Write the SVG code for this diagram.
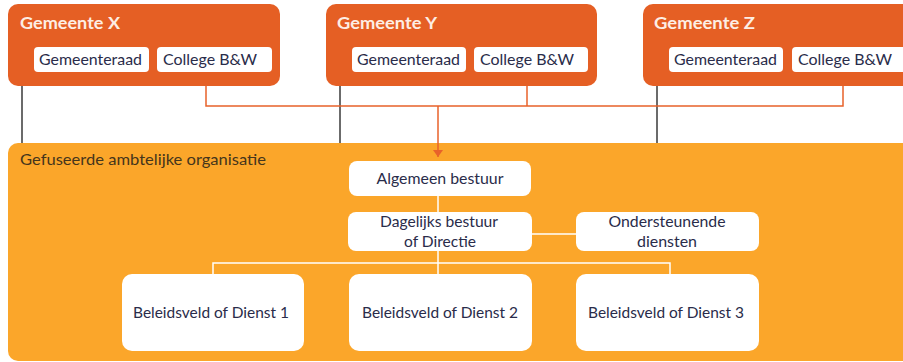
<svg xmlns="http://www.w3.org/2000/svg" width="903" height="362" viewBox="0 0 903 362">
  <style>
    .gem { fill: #e55f24; }
    .gem-title { font-family: Lato, "Open Sans", "Liberation Sans", sans-serif; font-size: 17px; font-weight: bold; fill: #fdeee4; }
    .pill { fill: #ffffff; }
    .lbl { font-family: Lato, "Open Sans", "Liberation Sans", sans-serif; font-size: 15px; fill: #2a2c4a; }
    .org { fill: #fba62a; }
    .org-title { font-family: Lato, "Open Sans", "Liberation Sans", sans-serif; font-size: 15px; fill: #45351c; }
    .box { fill: #ffffff; }
    .blk { stroke: #3a3a3a; stroke-width: 1.5; fill: none; }
    .orl { stroke: #e8622a; stroke-width: 1.5; fill: none; }
    .wht { stroke: #ffffff; stroke-width: 1.5; fill: none; }
  </style>
  <defs>
    <marker id="arrow" viewBox="0 0 8 10" refX="7" refY="5" markerWidth="8" markerHeight="10" markerUnits="userSpaceOnUse" orient="auto">
      <path d="M0,0 L7,5 L0,10 Z" fill="#e8622a"/>
    </marker>
  </defs>

  <rect width="903" height="362" fill="#ffffff"/>

  <!-- merged administrative organisation (background panel) -->
  <g id="organisatie">
    <rect class="org" x="8" y="143" width="910" height="218" rx="10"/>
    <text class="org-title" x="20" y="165" textLength="246" lengthAdjust="spacingAndGlyphs">Gefuseerde ambtelijke organisatie</text>
  </g>

  <!-- connectors -->
  <g id="connectors">
    <!-- municipalities to the merged organisation -->
    <line class="blk" x1="22" y1="86" x2="22" y2="143"/>
    <line class="blk" x1="340" y1="86" x2="340" y2="143"/>
    <line class="blk" x1="657" y1="86" x2="657" y2="143"/>
    <!-- colleges to the general board -->
    <polyline class="orl" points="206,86 206,106 843,106 843,86"/>
    <line class="orl" x1="527" y1="86" x2="527" y2="106"/>
    <line class="orl" x1="438" y1="106" x2="438" y2="157" marker-end="url(#arrow)"/>
    <!-- internal structure -->
    <line class="wht" x1="438" y1="196" x2="438" y2="212"/>
    <line class="wht" x1="532" y1="234" x2="576" y2="234"/>
    <line class="wht" x1="438" y1="251" x2="438" y2="274"/>
    <polyline class="wht" points="213,274 213,263 670,263 670,274"/>
  </g>

  <g id="gemeente-x">
    <rect class="gem" x="8" y="4" width="272" height="82" rx="10"/>
    <text class="gem-title" x="20" y="29" textLength="100" lengthAdjust="spacingAndGlyphs">Gemeente X</text>
    <rect class="pill" x="34" y="47" width="115" height="25" rx="4"/>
    <text class="lbl" x="39" y="65" textLength="103" lengthAdjust="spacingAndGlyphs">Gemeenteraad</text>
    <rect class="pill" x="157" y="47" width="115" height="25" rx="4"/>
    <text class="lbl" x="163" y="65" textLength="94" lengthAdjust="spacingAndGlyphs">College B&amp;W</text>
  </g>

  <g id="gemeente-y">
    <rect class="gem" x="326" y="4" width="271" height="82" rx="10"/>
    <text class="gem-title" x="337" y="29" textLength="100" lengthAdjust="spacingAndGlyphs">Gemeente Y</text>
    <rect class="pill" x="352" y="47" width="114" height="25" rx="4"/>
    <text class="lbl" x="357" y="65" textLength="103" lengthAdjust="spacingAndGlyphs">Gemeenteraad</text>
    <rect class="pill" x="474" y="47" width="114" height="25" rx="4"/>
    <text class="lbl" x="480" y="65" textLength="94" lengthAdjust="spacingAndGlyphs">College B&amp;W</text>
  </g>

  <g id="gemeente-z">
    <rect class="gem" x="643" y="4" width="272" height="82" rx="10"/>
    <text class="gem-title" x="654" y="29" textLength="101" lengthAdjust="spacingAndGlyphs">Gemeente Z</text>
    <rect class="pill" x="669" y="47" width="114" height="25" rx="4"/>
    <text class="lbl" x="674" y="65" textLength="103" lengthAdjust="spacingAndGlyphs">Gemeenteraad</text>
    <rect class="pill" x="792" y="47" width="115" height="25" rx="4"/>
    <text class="lbl" x="798" y="65" textLength="94" lengthAdjust="spacingAndGlyphs">College B&amp;W</text>
  </g>

  <g id="algemeen-bestuur">
    <rect class="box" x="349" y="161" width="182" height="35" rx="8"/>
    <text class="lbl" x="440" y="184" text-anchor="middle" textLength="127" lengthAdjust="spacingAndGlyphs">Algemeen bestuur</text>
  </g>

  <g id="dagelijks-bestuur">
    <rect class="box" x="348" y="212" width="184" height="39" rx="8"/>
    <text class="lbl" x="439" y="227" text-anchor="middle" textLength="118" lengthAdjust="spacingAndGlyphs">Dagelijks bestuur</text>
    <text class="lbl" x="440" y="247" text-anchor="middle" textLength="72" lengthAdjust="spacingAndGlyphs">of Directie</text>
  </g>

  <g id="ondersteunende-diensten">
    <rect class="box" x="576" y="212" width="183" height="39" rx="8"/>
    <text class="lbl" x="667" y="227" text-anchor="middle" textLength="117" lengthAdjust="spacingAndGlyphs">Ondersteunende</text>
    <text class="lbl" x="667" y="247" text-anchor="middle" textLength="60" lengthAdjust="spacingAndGlyphs">diensten</text>
  </g>

  <g id="dienst-1">
    <rect class="box" x="122" y="274" width="182" height="77" rx="10"/>
    <text class="lbl" x="211" y="318" text-anchor="middle" textLength="156" lengthAdjust="spacingAndGlyphs">Beleidsveld of Dienst 1</text>
  </g>

  <g id="dienst-2">
    <rect class="box" x="349" y="274" width="183" height="77" rx="10"/>
    <text class="lbl" x="440" y="318" text-anchor="middle" textLength="156" lengthAdjust="spacingAndGlyphs">Beleidsveld of Dienst 2</text>
  </g>

  <g id="dienst-3">
    <rect class="box" x="576" y="274" width="183" height="77" rx="10"/>
    <text class="lbl" x="666" y="318" text-anchor="middle" textLength="156" lengthAdjust="spacingAndGlyphs">Beleidsveld of Dienst 3</text>
  </g>
</svg>
